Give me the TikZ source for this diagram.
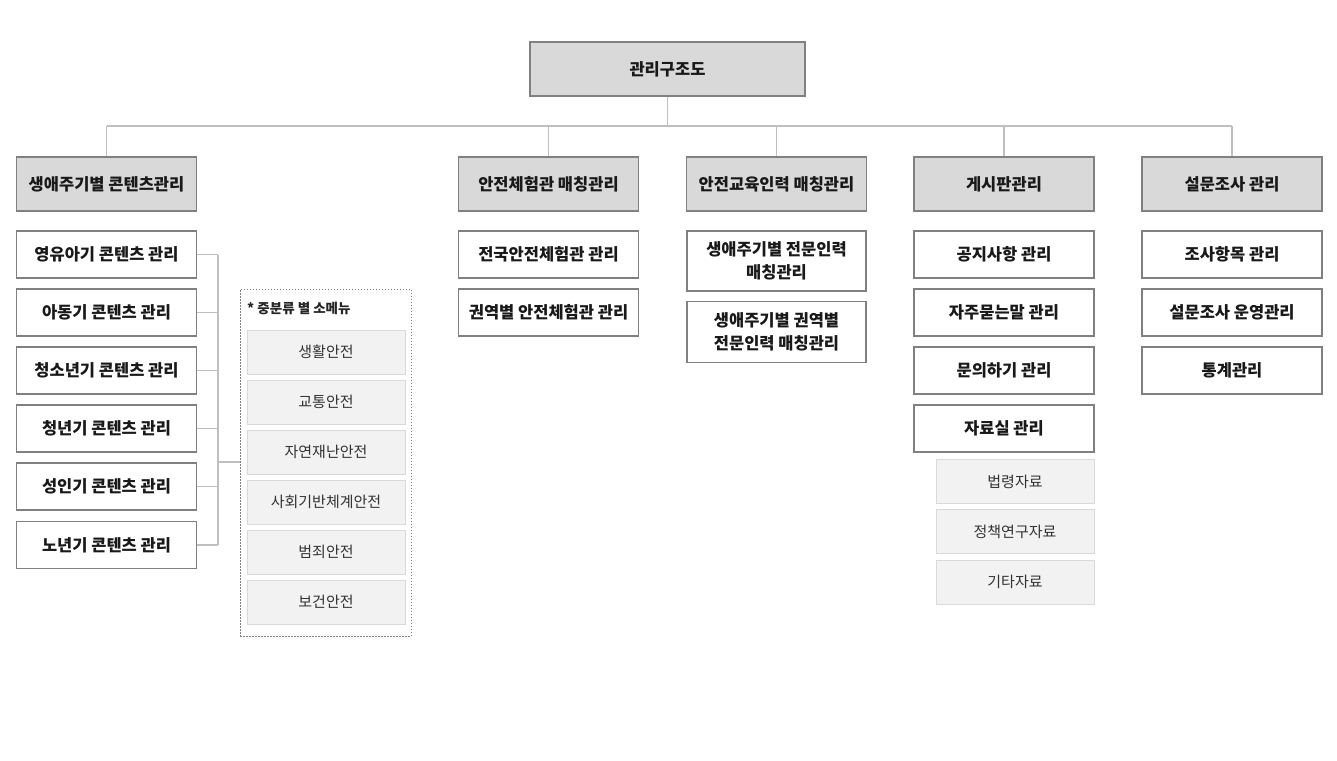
\documentclass[tikz,border=0pt]{standalone}
\usepackage{fontspec}
\setmainfont{Noto Sans CJK KR}
\begin{document}
\begin{tikzpicture}[x=1pt,y=-1pt,
  box/.style={draw=black!50, line width=1.1pt, inner sep=2pt, align=center, font=\fontsize{16.5}{23}\selectfont\bfseries, text=black!90},
  headbox/.style={box, fill=black!15, minimum width=180pt, minimum height=54pt},
  itembox/.style={box, fill=white, minimum width=180pt, minimum height=47pt},
  subbox/.style={draw=black!15, line width=1pt, fill=black!5, minimum width=158pt, minimum height=44pt, font=\fontsize{15}{18}\selectfont, text=black!80},
  conn/.style={draw=black!25, line width=1.4pt}]
\useasboundingbox (0,0) rectangle (1337,760);

% root
\node[box, fill=black!15, minimum width=275pt, minimum height=54pt] (root) at (667.5,69) {관리구조도};

% level 1
\node[headbox] (A) at (106.5,184) {생애주기별 콘텐츠관리};
\node[headbox] (B) at (548.5,184) {안전체험관 매칭관리};
\node[headbox] (C) at (776.5,184) {안전교육인력 매칭관리};
\node[headbox] (D) at (1004,184) {게시판관리};
\node[headbox] (E) at (1232,184) {설문조사 관리};

% bus
\coordinate (bus) at (667.5,126);
\draw[conn] (root.south) -- (root.south |- bus);
\draw[conn] (A.north |- bus) -- (E.north |- bus);
\foreach \n in {A,B,C,D,E} \draw[conn] (\n.north |- bus) -- (\n.north);

% A children
\node[itembox] (a1) at (106.5,254.5) {영유아기 콘텐츠 관리};
\node[itembox] (a2) at (106.5,312.5) {아동기 콘텐츠 관리};
\node[itembox] (a3) at (106.5,370.5) {청소년기 콘텐츠 관리};
\node[itembox] (a4) at (106.5,428.5) {청년기 콘텐츠 관리};
\node[itembox] (a5) at (106.5,486.5) {성인기 콘텐츠 관리};
\node[itembox] (a6) at (106.5,545) {노년기 콘텐츠 관리};

% dashed group
\node[draw=black!50, dash pattern=on 1.5pt off 1.5pt, line width=1pt, minimum width=171pt, minimum height=347pt, inner sep=0pt] (grp) at (325.5,462.5) {};
\node[anchor=west, inner sep=0pt, font=\fontsize{13.5}{16}\selectfont\bfseries, text=black!85] (grplbl) at (247,308) {* 중분류 별 소메뉴};
\node[subbox] (s1) at (326,352) {생활안전};
\node[subbox] (s2) at (326,402) {교통안전};
\node[subbox] (s3) at (326,452) {자연재난안전};
\node[subbox] (s4) at (326,502) {사회기반체계안전};
\node[subbox] (s5) at (326,552) {범죄안전};
\node[subbox] (s6) at (326,602) {보건안전};

% bracket
\coordinate (br) at (218,462);
\foreach \n in {a1,a2,a3,a4,a5,a6} \draw[conn] (\n.east) -- (\n.east -| br);
\draw[conn] (a1.east -| br) -- (a6.east -| br);
\draw[conn] (br) -- (grp.west |- br);

% B children
\node[itembox] (b1) at (548.5,254.5) {전국안전체험관 관리};
\node[itembox] (b2) at (548.5,312.5) {권역별 안전체험관 관리};

% C children
\node[itembox, minimum width=179pt, minimum height=60pt] (c1) at (776.5,261) {생애주기별 전문인력\\매칭관리};
\node[itembox, minimum width=179pt, minimum height=61pt] (c2) at (776.5,332) {생애주기별 권역별\\전문인력 매칭관리};

% D children
\node[itembox] (d1) at (1004,254.5) {공지사항 관리};
\node[itembox] (d2) at (1004,312.5) {자주묻는말 관리};
\node[itembox] (d3) at (1004,370.5) {문의하기 관리};
\node[itembox] (d4) at (1004,428.5) {자료실 관리};
\node[subbox] (d5) at (1015,481.5) {법령자료};
\node[subbox] (d6) at (1015,531.5) {정책연구자료};
\node[subbox] (d7) at (1015,582) {기타자료};

% E children
\node[itembox] (e1) at (1232,254.5) {조사항목 관리};
\node[itembox] (e2) at (1232,312.5) {설문조사 운영관리};
\node[itembox] (e3) at (1232,370.5) {통계관리};
\end{tikzpicture}
\end{document}
